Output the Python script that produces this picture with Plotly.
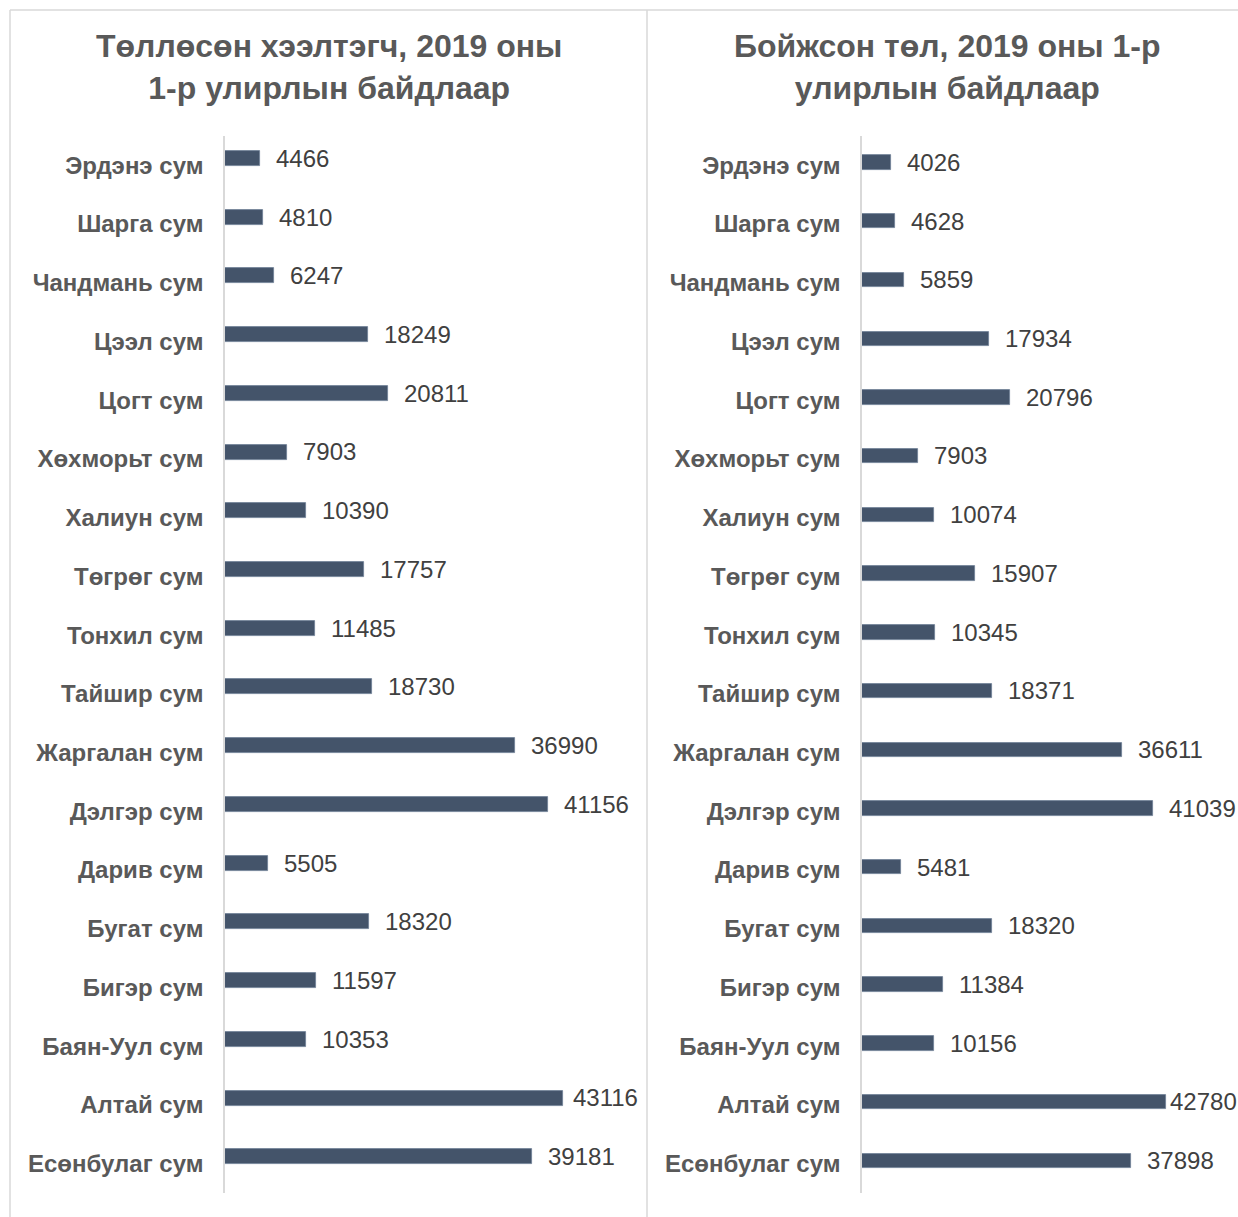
import plotly.graph_objects as go

categories = ["Эрдэнэ сум", "Шарга сум", "Чандмань сум", "Цээл сум", "Цогт сум",
              "Хөхморьт сум", "Халиун сум", "Төгрөг сум", "Тонхил сум", "Тайшир сум",
              "Жаргалан сум", "Дэлгэр сум", "Дарив сум", "Бугат сум", "Бигэр сум",
              "Баян-Уул сум", "Алтай сум", "Есөнбулаг сум"]
left_values = [4466, 4810, 6247, 18249, 20811, 7903, 10390, 17757, 11485, 18730,
               36990, 41156, 5505, 18320, 11597, 10353, 43116, 39181]
right_values = [4026, 4628, 5859, 17934, 20796, 7903, 10074, 15907, 10345, 18371,
                36611, 41039, 5481, 18320, 11384, 10156, 42780, 37898]
left_title = "Төллөсөн хээлтэгч, 2019 оны<br>1-р улирлын байдлаар"
right_title = "Бойжсон төл, 2019 оны 1-р<br>улирлын байдлаар"

W, H = 1238, 1217
FONT = "Liberation Sans, Arial, sans-serif"
BAR = "#44546A"
GRID = "#D9D9D9"
XMAX = 50000


def xp(px):
    return px / W


def yp(px):
    return 1 - px / H


fig = go.Figure()

panels = [
    # values, axis suffix, x0 px, x1 px, bar offset, bar width, text yshift, right limit px, title, title center px
    (left_values, "", 225, 617, -0.245, 0.255, 7, 641, left_title, 329),
    (right_values, "2", 862, 1217, -0.17, 0.245, 3, 1238, right_title, 947),
]

ytop, ybot = 136, 1193
annotations = []
for vals, s, x0, x1, off, bw, ysh, limit, title, tcx in panels:
    fig.add_trace(go.Bar(
        x=vals, y=categories, orientation="h",
        xaxis="x" + s, yaxis="y" + s,
        marker=dict(color=BAR, line=dict(color="#6F7F96", width=0.8)),
        width=bw, offset=off, showlegend=False, hoverinfo="x+y",
    ))
    scale = (x1 - x0) / XMAX
    for c, v in zip(categories, vals):
        txt = str(v)
        end_px = x0 + v * scale
        est_w = len(txt) * 13.35 + 3
        shift = min(14, limit - end_px - est_w)
        annotations.append(dict(
            x=v, y=c, xref="x" + s, yref="y" + s, text=txt, showarrow=False,
            xanchor="left", yanchor="middle", xshift=shift, yshift=ysh,
            font=dict(family=FONT, size=24, color="#404040"),
        ))
    annotations.append(dict(
        x=xp(tcx), y=yp(67), xref="paper", yref="paper", text=title,
        showarrow=False, xanchor="center", yanchor="middle", align="center",
        font=dict(family=FONT, size=32, color="#595959", weight="bold"),
    ))
    fig.layout["xaxis" + s] = dict(
        domain=[xp(x0), xp(x1)], range=[0, XMAX], visible=False,
        anchor="y" + s, fixedrange=True,
    )
    fig.layout["yaxis" + s] = dict(
        domain=[yp(ybot), yp(ytop)], anchor="x" + s,
        autorange=False, range=[len(categories) - 0.5, -0.5],
        type="category", categoryorder="array", categoryarray=categories,
        showline=True, linecolor=GRID, linewidth=1.5, showgrid=False,
        ticks="", ticklabelstandoff=15, zeroline=False,
        tickfont=dict(family=FONT, size=24, color="#595959", weight="bold"),
    )

shapes = [
    dict(type="line", xref="paper", yref="paper", x0=xp(10), x1=1, y0=yp(10), y1=yp(10),
         line=dict(color=GRID, width=1.5)),
    dict(type="line", xref="paper", yref="paper", x0=xp(10), x1=xp(10), y0=0, y1=yp(10),
         line=dict(color=GRID, width=1.5)),
    dict(type="line", xref="paper", yref="paper", x0=xp(647), x1=xp(647), y0=0, y1=yp(10),
         line=dict(color=GRID, width=1.5)),
]

fig.update_layout(
    width=W, height=H, margin=dict(l=0, r=0, t=0, b=0),
    paper_bgcolor="white", plot_bgcolor="white",
    annotations=annotations, shapes=shapes, bargap=0,
)

fig.write_html(
    "out.html",
    config={"displayModeBar": False},
    post_script="document.body.style.margin='0';document.body.style.overflow='hidden';",
)
